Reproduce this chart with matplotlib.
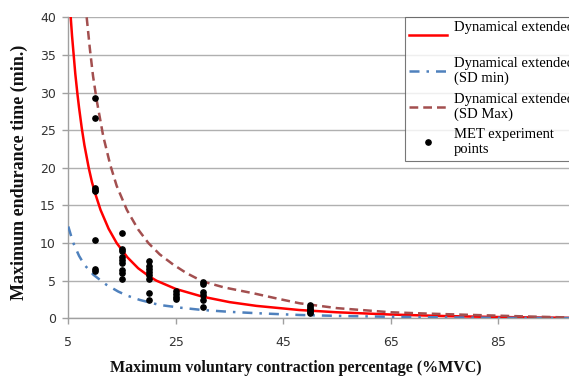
import matplotlib
matplotlib.use("Agg")
import matplotlib.pyplot as plt
from matplotlib.lines import Line2D

# --- data ---
model_x = [5.45, 5.7, 6.3, 6.7, 7, 7.5, 8, 8.8, 9.4, 10, 11, 12.5, 14, 16, 18, 20, 21.4, 25, 30, 35, 40, 48, 55, 65, 75, 85, 100]
model_y = [40, 37.5, 32.5, 29.8, 28.0, 25.3, 23.0, 20, 18.1, 16.6, 14.4, 11.9, 10.0, 8.1, 6.65, 5.6, 5.0, 3.9, 2.87, 2.15, 1.65, 1.1, 0.8, 0.5, 0.3, 0.17, 0.05]

sdmin_x = [5, 5.5, 6, 7, 8, 9.65, 12, 14.3, 16, 18.3, 22, 26, 30, 35, 40, 48, 55, 65, 75, 85, 100]
sdmin_y = [12.2, 11.0, 9.9, 8.3, 7.1, 5.8, 4.5, 3.55, 3.0, 2.44, 1.77, 1.4, 1.1, 0.86, 0.68, 0.44, 0.32, 0.2, 0.12, 0.07, 0.03]

sdmax_x = [8.42, 9, 9.6, 10.3, 11.5, 12.8, 14, 15.9, 18, 19.9, 22, 24.5, 27, 30, 34, 39.4, 44, 48, 55, 65, 72, 80, 90, 100]
sdmax_y = [40, 35.9, 32.2, 28.9, 24.2, 20.4, 17.6, 14.4, 11.8, 10, 8.5, 7.15, 6.0, 4.9, 4.1, 3.33, 2.6, 2.0, 1.35, 0.8, 0.62, 0.45, 0.25, 0.08]

met_x = [10]*8 + [15]*9 + [20]*8 + [25]*4 + [30]*6 + [50]*6
met_y = [29.3, 26.6, 17.3, 17.1, 16.9, 10.4, 6.6, 6.3,
         11.4, 9.2, 8.9, 8.1, 7.7, 7.3, 6.4, 6.0, 5.2,
         7.6, 7.0, 6.6, 6.1, 5.7, 5.2, 3.4, 2.4,
         3.6, 3.2, 2.8, 2.5,
         4.8, 4.5, 3.5, 3.1, 2.4, 1.5,
         1.8, 1.5, 1.3, 1.1, 0.9, 0.7]

x_ticks = [5, 25, 45, 65, 85]
y_ticks = [0, 5, 10, 15, 20, 25, 30, 35, 40]

labels = ["Dynamical extended model\n ",
          "Dynamical extended model\n(SD min)",
          "Dynamical extended model\n(SD Max)",
          "MET experiment\npoints"]

W, H = 569, 376
fig = plt.figure(figsize=(W/100, H/100), dpi=100)
left = 68.3 / W
bottom = 1 - 318.3 / H
top = 1 - 17.3 / H
width = 537.5 / W
ax = fig.add_axes([left, bottom, width, top - bottom])

ax.set_xlim(5, 105)
ax.set_ylim(0, 40)
ax.set_xticks(x_ticks)
ax.set_yticks(y_ticks)
ax.yaxis.grid(True, color="#B0B0B0", linewidth=1.0)
ax.set_axisbelow(True)
for s in ["top", "right"]:
    ax.spines[s].set_visible(False)
for s in ["left", "bottom"]:
    ax.spines[s].set_color("#A0A0A0")
    ax.spines[s].set_linewidth(1.0)
ax.tick_params(axis="both", colors="#A0A0A0", labelcolor="#333333", labelsize=9, length=4, width=1)
ax.tick_params(axis="x", pad=9)
ax.tick_params(axis="y", pad=5)
for t in ax.get_xticklabels() + ax.get_yticklabels():
    t.set_family("DejaVu Sans")

ax.plot(model_x, model_y, color="#FF0000", linewidth=1.8, zorder=3)
ax.plot(sdmin_x, sdmin_y, color="#4F81BD", linewidth=1.8, dashes=(4, 2.8, 1, 2.8), zorder=3)
ax.plot(sdmax_x, sdmax_y, color="#A34F4F", linewidth=1.8, dashes=(3.5, 2), zorder=3)
ax.plot(met_x, met_y, linestyle="none", marker="o", markersize=3.8, color="black", zorder=4)

handles = [Line2D([], [], color="#FF0000", linewidth=1.8),
           Line2D([], [], color="#4F81BD", linewidth=1.8, dashes=(4, 2.8, 1, 2.8)),
           Line2D([], [], color="#A34F4F", linewidth=1.8, dashes=(3.5, 2)),
           Line2D([], [], linestyle="none", marker="o", markersize=3.8, color="black")]
leg = fig.legend(handles, labels, loc="upper left",
                 bbox_to_anchor=(405/W, 1 - 17/H), bbox_transform=fig.transFigure,
                 prop={"family": "Liberation Serif", "size": 10.5},
                 frameon=True, fancybox=False, edgecolor="#555555",
                 borderaxespad=0, borderpad=0.3, handlelength=2.6, handletextpad=0.45,
                 labelspacing=0.5)
leg.get_frame().set_linewidth(0.8)

fig.text(296/W, 1 - 368/H, "Maximum voluntary contraction percentage (%MVC)",
         ha="center", va="center", fontsize=11.5, fontweight="bold",
         family="Liberation Serif", color="#111111")
fig.text(19/W, 1 - 172/H, "Maximum endurance time (min.)",
         ha="center", va="center", rotation=90, fontsize=13, fontweight="bold",
         family="Liberation Serif", color="#111111")

fig.savefig("out.png", dpi=100)
